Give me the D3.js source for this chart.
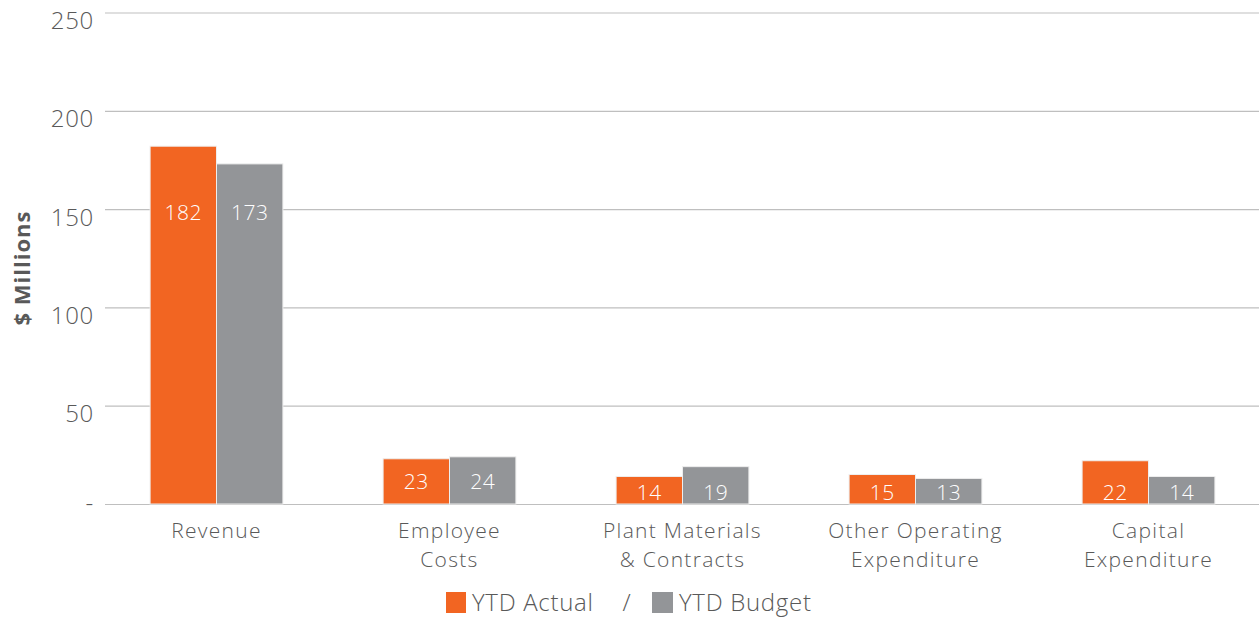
<!DOCTYPE html>
<html>
<head>
<meta charset="utf-8">
<script src="https://cdn.jsdelivr.net/npm/d3@7"></script>
<style>
  body { margin: 0; background: #fff; }
  svg text { font-family: "Open Sans", sans-serif; fill: #595959; }
</style>
</head>
<body>
<div id="chart"></div>
<script>
const categories = [["Revenue"], ["Employee", "Costs"], ["Plant Materials", "& Contracts"], ["Other Operating", "Expenditure"], ["Capital", "Expenditure"]];
const actual = [182, 23, 14, 15, 22];
const budget = [173, 24, 19, 13, 14];
const seriesNames = ["YTD Actual", "YTD Budget"];
const yTicks = [0, 50, 100, 150, 200, 250];

const width = 1259, height = 619;
const colors = ["#f26522", "#939598"];
const fontSize = "24px", spacing = "0.7px";

const svg = d3.select("#chart").append("svg")
  .attr("width", width).attr("height", height);

const y = d3.scaleLinear().domain([0, 250]).range([504, 12.5]);
const x = d3.scaleBand().domain(d3.range(categories.length)).range([100, 1265])
  .paddingInner(0.43).paddingOuter(0.215);
const xs = d3.scaleBand().domain([0, 1]).range([0, x.bandwidth()]);

// gridlines + tick labels
const yAxis = d3.axisLeft(y).tickValues(yTicks).tickSize(0)
  .tickFormat(d => d === 0 ? "-" : d);
const ga = svg.append("g").attr("transform", "translate(105,0)").call(yAxis);
ga.select(".domain").remove();
ga.selectAll("text").attr("x", -11).attr("dy", d => d === 0 ? 6 : 16)
  .style("font-size", fontSize).style("font-weight", 300).style("letter-spacing", spacing);
ga.selectAll(".tick line").attr("x2", width - 105).attr("stroke", "#bfbfbf").attr("stroke-width", 1.2);

// y title
svg.append("text")
  .attr("transform", "translate(30,268) rotate(-90)")
  .attr("text-anchor", "middle")
  .style("font-size", "22px").style("font-weight", 700).style("letter-spacing", "1px")
  .text("$ Millions");

const rows = categories.map((c, i) => ({i, vals: [actual[i], budget[i]]}));

const groups = svg.append("g").selectAll("g").data(rows).join("g")
  .attr("transform", d => `translate(${x(d.i)},0)`);

groups.selectAll("rect").data(d => d.vals).join("rect")
  .attr("x", (v, k) => xs(k))
  .attr("y", v => y(v))
  .attr("width", xs.bandwidth())
  .attr("height", v => y(0) - y(v))
  .attr("fill", (v, k) => colors[k])
  .attr("stroke", "#eeeeee")
  .attr("stroke-width", 1);

groups.each(function(d) {
  const ly = Math.min(Math.max(y(d3.min(d.vals)) + 23, y(148)), y(0) - 11);
  d3.select(this).selectAll("text.val").data(d.vals).join("text")
    .attr("class", "val")
    .attr("x", (v, k) => xs(k) + xs.bandwidth() / 2)
    .attr("y", ly)
    .attr("dy", "0.35em")
    .attr("text-anchor", "middle")
    .style("fill", "#fff")
    .style("font-size", "21px").style("font-weight", 300).style("letter-spacing", "0.5px")
    .text(v => v);
});

// category labels, one text per line
groups.selectAll("text.cat").data(d => categories[d.i]).join("text")
  .attr("class", "cat")
  .attr("x", x.bandwidth() / 2)
  .attr("y", (t, k) => 538 + k * 29)
  .attr("text-anchor", "middle")
  .style("font-size", "21px").style("font-weight", 300).style("letter-spacing", "1.3px")
  .text(t => t);

// legend
const lg = svg.append("g").style("font-size", fontSize).style("font-weight", 300).style("letter-spacing", spacing);
lg.append("rect").attr("x", 446).attr("y", 592).attr("width", 20).attr("height", 21).attr("fill", colors[0]);
lg.append("text").attr("x", 472).attr("y", 611).text(seriesNames[0]);
lg.append("text").attr("x", 627).attr("y", 611).attr("text-anchor", "middle").text("/");
lg.append("rect").attr("x", 652).attr("y", 592).attr("width", 21).attr("height", 21).attr("fill", colors[1]);
lg.append("text").attr("x", 679).attr("y", 611).text(seriesNames[1]);
</script>
</body>
</html>
